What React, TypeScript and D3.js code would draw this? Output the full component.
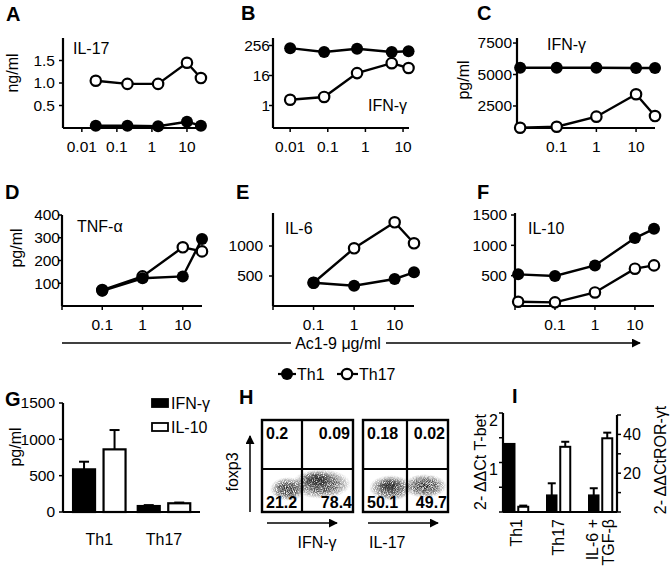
import React from 'react';
import * as d3 from 'd3';

const FONT = '"Liberation Sans", Arial, Helvetica, sans-serif';
const FS = 15.5;
const TS = 16;

// ---------------- data ----------------
// A: IL-17 (ng/ml)
const dosesA = [0.025, 0.2, 1.5, 10, 25];
const il17Th1 = [0.05, 0.05, 0.04, 0.14, 0.05];
const il17Th17 = [1.05, 0.98, 0.98, 1.45, 1.11];
// B: IFN-γ (log2)
const dosesB = [0.01, 0.08, 0.6, 5, 14];
const ifnLogTh1 = [200, 140, 190, 140, 150];
const ifnLogTh17 = [1.7, 2.2, 20, 50, 32];
// C: IFN-γ pg/ml
const dosesCF = [0.012, 0.1, 1, 10, 30];
const ifnTh1 = [5540, 5540, 5540, 5520, 5520];
const ifnTh17 = [770, 850, 1650, 3430, 1700];
// D, E
const dosesDE = [0.1, 1, 10, 30];
const tnfTh1 = [67, 122, 130, 295];
const tnfTh17 = [70, 130, 258, 240];
const il6Th1 = [388, 338, 450, 562];
const il6Th17 = [388, 962, 1395, 1045];
// F
const il10Th1 = [522, 494, 669, 1120, 1272];
const il10Th17 = [70, 60, 223, 615, 669];

const doseTicks = [0.01, 0.1, 1, 10];
const doseLabelsFull = ['0.01', '0.1', '1', '10'];
const doseLabelsShort = ['', '0.1', '1', '10'];

// G
const gGroups = ['Th1', 'Th17'];
const gSeries = ['IFN-γ', 'IL-10'];
const gIfn = [587, 82];
const gIfnErr = [105, 13];
const gIl10 = [862, 120];
const gIl10Err = [266, 10];
const gTicks = [0, 500, 1000, 1500];

// H
const hIfnQuad = ['0.2', '0.09', '21.2', '78.4'];
const hIl17Quad = ['0.18', '0.02', '50.1', '49.7'];

// I
const iGroups = ['Th1', 'Th17', 'IL6TGF'];
const iGroupLines = [['Th1'], ['Th17'], ['IL-6 +', 'TGF-β']];
const iTbet = [1.38, 0.34, 0.34];
const iTbetErr = [0, 0.24, 0.14];
const iRor = [2.7, 33.6, 38];
const iRorErr = [0.6, 2.6, 2.9];
const iLeftTicks = [0, 0.5, 1, 1.5, 2];
const iRightTicks = [0, 10, 20, 30, 40, 50];

// ---------------- components ----------------
type LP = {
  letter: string; lx: number; ly: number;
  title: string; tx: number; ty: number;
  x: any; y: any; x0: number; x1: number; yTop: number; yBot: number;
  xTicks: number[]; xLabels: string[];
  yTicks: number[]; yLabels: string[]; yPad: number;
  doses: number[]; th1: number[]; th17: number[];
  ylab?: string; ylx?: number; yly?: number;
};

function LinePanel(p: LP) {
  const line = d3.line<number>().x((_, i) => p.x(p.doses[i])).y((d) => p.y(d));
  return (
    <g>
      <text x={p.lx} y={p.ly} fontSize={20} fontWeight="bold">{p.letter}</text>
      <text x={p.tx} y={p.ty} fontSize={TS}>{p.title}</text>
      {p.ylab && (
        <text transform={`translate(${p.ylx},${p.yly}) rotate(-90)`} textAnchor="middle" dy="0.35em" fontSize={TS}>{p.ylab}</text>
      )}
      <line x1={p.x0} x2={p.x0} y1={p.yTop} y2={p.yBot} stroke="#000" strokeWidth={2.2} />
      <line x1={p.x0} x2={p.x1} y1={p.yBot} y2={p.yBot} stroke="#000" strokeWidth={2.2} />
      {p.yTicks.map((t, i) => (
        <g key={'y' + i}>
          <line x1={p.x0 - 4} x2={p.x0} y1={p.y(t)} y2={p.y(t)} stroke="#000" strokeWidth={1.5} />
          <text x={p.x0 - p.yPad} y={p.y(t)} dy="0.35em" textAnchor="end" fontSize={FS}>{p.yLabels[i]}</text>
        </g>
      ))}
      {p.xTicks.map((t, i) => (
        <g key={'x' + i}>
          <line x1={p.x(t)} x2={p.x(t)} y1={p.yBot} y2={p.yBot + 4} stroke="#000" strokeWidth={1.5} />
          <text x={p.x(t)} y={p.yBot + 24} textAnchor="middle" fontSize={FS}>{p.xLabels[i]}</text>
        </g>
      ))}
      <path d={line(p.th17) || ''} fill="none" stroke="#000" strokeWidth={2.4} />
      {p.th17.map((v, i) => (
        <circle key={'o' + i} cx={p.x(p.doses[i])} cy={p.y(v)} r={5.2} fill="#fff" stroke="#000" strokeWidth={2.2} />
      ))}
      <path d={line(p.th1) || ''} fill="none" stroke="#000" strokeWidth={2.4} />
      {p.th1.map((v, i) => (
        <circle key={'f' + i} cx={p.x(p.doses[i])} cy={p.y(v)} r={6} fill="#000" />
      ))}
    </g>
  );
}

function PanelG() {
  const x0 = 63, x1 = 200, yTop = 403, yBot = 512;
  const y = d3.scaleLinear().domain([0, 1500]).range([yBot, yTop]);
  const gx = d3.scalePoint<string>().domain(gGroups).range([99.3, 164]);
  const inner = d3.scaleBand<string>().domain(gSeries).range([-26.25, 26.25]).paddingInner(0.279);
  const vals = [gIfn, gIl10];
  const errs = [gIfnErr, gIl10Err];
  const fills = ['#000', '#fff'];
  return (
    <g>
      <text x={5} y={406} fontSize={20} fontWeight="bold">G</text>
      <text transform="translate(15,447) rotate(-90)" textAnchor="middle" dy="0.35em" fontSize={TS}>pg/ml</text>
      <line x1={x0} x2={x0} y1={yTop} y2={yBot} stroke="#000" strokeWidth={2.2} />
      <line x1={x0} x2={x1} y1={yBot} y2={yBot} stroke="#000" strokeWidth={2.2} />
      {gTicks.map((t) => (
        <g key={t}>
          <line x1={x0 - 4} x2={x0} y1={y(t)} y2={y(t)} stroke="#000" strokeWidth={1.5} />
          <text x={x0 - 8} y={y(t)} dy="0.35em" textAnchor="end" fontSize={FS}>{t}</text>
        </g>
      ))}
      {gGroups.map((g, gi) => (
        <g key={g}>
          {gSeries.map((s, si) => {
            const bx = (gx(g) as number) + (inner(s) as number);
            const bw = inner.bandwidth();
            const v = vals[si][gi];
            const e = errs[si][gi];
            const cx = bx + bw / 2;
            return (
              <g key={s}>
                <line x1={cx} x2={cx} y1={y(v)} y2={y(v + e)} stroke="#000" strokeWidth={2} />
                <line x1={cx - 5} x2={cx + 5} y1={y(v + e)} y2={y(v + e)} stroke="#000" strokeWidth={2} />
                <rect x={bx} y={y(v)} width={bw} height={yBot - y(v)} fill={fills[si]} stroke="#000" strokeWidth={2.2} />
              </g>
            );
          })}
          <text x={gx(g)} y={545} textAnchor="middle" fontSize={TS}>{g}</text>
        </g>
      ))}
      {gSeries.map((s, si) => (
        <g key={s}>
          <rect x={152} y={399 + si * 24} width={16} height={8} fill={fills[si]} stroke="#000" strokeWidth={1.8} />
          <text x={171} y={409 + si * 24} fontSize={TS}>{s}</text>
        </g>
      ))}
    </g>
  );
}

function FlowBox({ x, w, vx, quad, xlab, xlabX, xlabAnchor, lobes }: any) {
  const yT = 420, yB = 512, hy = 469;
  return (
    <g>
      {lobes.map((l: number[], i: number) => (
        <ellipse key={i} cx={l[0]} cy={l[1]} rx={l[2]} ry={l[3]} fill="url(#cloud)" filter="url(#grain)" />
      ))}
      <rect x={x} y={yT} width={w} height={yB - yT} fill="none" stroke="#000" strokeWidth={2.4} />
      <line x1={vx} x2={vx} y1={yT} y2={yB} stroke="#000" strokeWidth={2.2} />
      <line x1={x} x2={x + w} y1={hy} y2={hy} stroke="#000" strokeWidth={2.2} />
      <text x={x + 4} y={439} fontSize={TS} fontWeight="bold">{quad[0]}</text>
      <text x={x + w - 3} y={439} fontSize={TS} fontWeight="bold" textAnchor="end">{quad[1]}</text>
      <text x={x + 4} y={508} fontSize={TS} fontWeight="bold">{quad[2]}</text>
      <text x={x + w - 1} y={508} fontSize={TS} fontWeight="bold" textAnchor="end">{quad[3]}</text>
      <line x1={x + 5} x2={x + 75} y1={523} y2={523} stroke="#000" strokeWidth={1.5} markerEnd="url(#arr)" />
      <text x={xlabX} y={548} fontSize={TS} textAnchor={xlabAnchor}>{xlab}</text>
    </g>
  );
}

function PanelH() {
  return (
    <g>
      <text x={239} y={404} fontSize={20} fontWeight="bold">H</text>
      <line x1={250} x2={250} y1={512} y2={436} stroke="#000" strokeWidth={1.5} markerEnd="url(#arr)" />
      <text transform="translate(232,472) rotate(-90)" textAnchor="middle" dy="0.35em" fontSize={TS}>foxp3</text>
      <FlowBox x={262} w={91} vx={302} quad={hIfnQuad} xlab="IFN-γ" xlabX={317} xlabAnchor="middle"
        lobes={[[288, 489, 18, 12], [321, 484, 30, 15], [317, 480, 18, 9]]} />
      <FlowBox x={363} w={85} vx={407} quad={hIl17Quad} xlab="IL-17" xlabX={369} xlabAnchor="start"
        lobes={[[391, 488, 22, 13], [425, 486, 22, 12], [390, 486, 13, 8]]} />
    </g>
  );
}

function PanelI() {
  const x0 = 503, x1 = 617, yTop = 413, yBot = 512;
  const yL = d3.scaleLinear().domain([0, 2]).range([yBot, yTop]);
  const yR = d3.scaleLinear().domain([0, 50]).range([yBot, 415]);
  const gx = d3.scalePoint<string>().domain(iGroups).range([516.5, 600.5]);
  const inner = d3.scaleBand<string>().domain(['tbet', 'ror']).range([-11.75, 11.75]).paddingInner(0.26);
  const bw = inner.bandwidth();
  return (
    <g>
      <text x={512} y={403} fontSize={20} fontWeight="bold">I</text>
      <text transform="translate(480,462) rotate(-90)" textAnchor="middle" dy="0.35em" fontSize={16}>2- ΔΔCt T-bet</text>
      <text transform="translate(660,460) rotate(-90)" textAnchor="middle" dy="0.35em" fontSize={16}>2- ΔΔCtROR-γt</text>
      <line x1={x0} x2={x0} y1={yTop} y2={yBot} stroke="#000" strokeWidth={2.2} />
      <line x1={x1} x2={x1} y1={415} y2={yBot} stroke="#000" strokeWidth={2.2} />
      <line x1={x0} x2={x1} y1={yBot} y2={yBot} stroke="#000" strokeWidth={2.2} />
      {iLeftTicks.map((t) => (
        <line key={t} x1={x0 - 4} x2={x0} y1={yL(t)} y2={yL(t)} stroke="#000" strokeWidth={1.5} />
      ))}
      {[1, 2].map((t) => (
        <text key={t} x={x0 - 5} y={yL(t) + 7} dy="0.35em" textAnchor="end" fontSize={16}>{t}</text>
      ))}
      {iRightTicks.map((t) => (
        <line key={t} x1={x1} x2={x1 + 4} y1={yR(t)} y2={yR(t)} stroke="#000" strokeWidth={1.5} />
      ))}
      {[20, 40].map((t) => (
        <text key={t} x={x1 + 6} y={yR(t)} dy="0.35em" textAnchor="start" fontSize={16}>{t}</text>
      ))}
      {iGroups.map((g, gi) => {
        const c = gx(g) as number;
        const bx1 = c + (inner('tbet') as number);
        const bx2 = c + (inner('ror') as number);
        const v1 = iTbet[gi], e1 = iTbetErr[gi], v2 = iRor[gi], e2 = iRorErr[gi];
        const lines = iGroupLines[gi];
        return (
          <g key={g}>
            {e1 > 0 && (
              <g>
                <line x1={bx1 + bw / 2} x2={bx1 + bw / 2} y1={yL(v1)} y2={yL(v1 + e1)} stroke="#000" strokeWidth={2} />
                <line x1={bx1 + bw / 2 - 4} x2={bx1 + bw / 2 + 4} y1={yL(v1 + e1)} y2={yL(v1 + e1)} stroke="#000" strokeWidth={2} />
              </g>
            )}
            <rect x={bx1} y={yL(v1)} width={bw} height={yBot - yL(v1)} fill="#000" stroke="#000" strokeWidth={1.5} />
            <line x1={bx2 + bw / 2} x2={bx2 + bw / 2} y1={yR(v2)} y2={yR(v2 + e2)} stroke="#000" strokeWidth={2} />
            <line x1={bx2 + bw / 2 - 4} x2={bx2 + bw / 2 + 4} y1={yR(v2 + e2)} y2={yR(v2 + e2)} stroke="#000" strokeWidth={2} />
            <rect x={bx2} y={yR(v2)} width={bw} height={yBot - yR(v2)} fill="#fff" stroke="#000" strokeWidth={2} />
            {lines.map((t, li) => (
              <text key={li} transform={`translate(${c + (li - (lines.length - 1) / 2) * 16},519) rotate(-90)`}
                textAnchor="end" dy="0.35em" fontSize={16}>{t}</text>
            ))}
          </g>
        );
      })}
    </g>
  );
}

export default function App() {
  const xA = d3.scaleLog().domain([0.0029, 32.7]).range([63, 205]);
  const yA = d3.scaleLinear().domain([0, 2]).range([128, 38]);
  const xB = d3.scaleLog().domain([0.0035, 14.4]).range([273, 409]);
  const yB = d3.scaleLog().base(2).domain([0.125, 512]).range([128, 38]);
  const xC = d3.scaleLog().domain([0.01, 30]).range([517, 655]);
  const yC = d3.scaleLinear().domain([750, 7900]).range([128, 38]);
  const xD = d3.scaleLog().domain([0.01, 30]).range([62, 202]);
  const yD = d3.scaleLinear().domain([0, 400]).range([306, 215]);
  const xE = d3.scaleLog().domain([0.01, 30]).range([273, 414]);
  const yE = d3.scaleLinear().domain([0, 1550]).range([306, 213]);
  const xF = d3.scaleLog().domain([0.01, 30]).range([515, 654]);
  const yF = d3.scaleLinear().domain([0, 1500]).range([306, 215]);

  return (
    <svg width={672} height={571} style={{ position: 'absolute', left: 0, top: 0, background: '#fff' }}
      fontFamily={FONT} fill="#000">
      <defs>
        <marker id="arr" viewBox="0 0 10 10" refX={9} refY={5} markerWidth={6} markerHeight={6} orient="auto">
          <path d="M0,0 L10,5 L0,10 z" fill="#000" />
        </marker>
        <radialGradient id="cloud">
          <stop offset="0%" stopColor="#222" stopOpacity={1} />
          <stop offset="50%" stopColor="#3a3a3a" stopOpacity={0.85} />
          <stop offset="80%" stopColor="#666" stopOpacity={0.45} />
          <stop offset="100%" stopColor="#999" stopOpacity={0} />
        </radialGradient>
        <filter id="grain" x="-10%" y="-10%" width="120%" height="120%">
          <feTurbulence type="fractalNoise" baseFrequency="1.1" numOctaves={2} seed={3} result="n" />
          <feColorMatrix in="n" type="matrix" values="0 0 0 0 0  0 0 0 0 0  0 0 0 0 0  2.5 0 0 0 -0.55" result="a" />
          <feComposite in="SourceGraphic" in2="a" operator="in" />
        </filter>
      </defs>
      <rect x={0} y={0} width={672} height={571} fill="#fff" />

      <LinePanel letter="A" lx={6} ly={21} title="IL-17" tx={73} ty={54} x={xA} y={yA} x0={63} x1={205} yTop={38} yBot={128}
        xTicks={doseTicks} xLabels={doseLabelsFull} yTicks={[0.5, 1.0, 1.5]} yLabels={['0.5', '1.0', '1.5']} yPad={8}
        doses={dosesA} th1={il17Th1} th17={il17Th17} ylab="ng/ml" ylx={12} yly={73} />
      <LinePanel letter="B" lx={241} ly={20} title="IFN-γ" tx={368} ty={111} x={xB} y={yB} x0={273} x1={409} yTop={38} yBot={128}
        xTicks={doseTicks} xLabels={doseLabelsFull} yTicks={[1, 16, 256]} yLabels={['1', '16', '256']} yPad={3}
        doses={dosesB} th1={ifnLogTh1} th17={ifnLogTh17} />
      <LinePanel letter="C" lx={477} ly={20} title="IFN-γ" tx={547} ty={50} x={xC} y={yC} x0={517} x1={655} yTop={38} yBot={128}
        xTicks={doseTicks} xLabels={doseLabelsShort} yTicks={[2500, 5000, 7500]} yLabels={['2500', '5000', '7500']} yPad={5}
        doses={dosesCF} th1={ifnTh1} th17={ifnTh17} ylab="pg/ml" ylx={463} yly={80} />
      <LinePanel letter="D" lx={5} ly={199} title="TNF-α" tx={77} ty={232} x={xD} y={yD} x0={62} x1={202} yTop={215} yBot={306}
        xTicks={doseTicks} xLabels={doseLabelsShort} yTicks={[100, 200, 300, 400]} yLabels={['100', '200', '300', '400']} yPad={2}
        doses={dosesDE} th1={tnfTh1} th17={tnfTh17} ylab="pg/ml" ylx={16} yly={248} />
      <LinePanel letter="E" lx={236} ly={199} title="IL-6" tx={285} ty={234} x={xE} y={yE} x0={273} x1={414} yTop={213} yBot={306}
        xTicks={doseTicks} xLabels={doseLabelsShort} yTicks={[500, 1000]} yLabels={['500', '1000']} yPad={10}
        doses={dosesDE} th1={il6Th1} th17={il6Th17} />
      <LinePanel letter="F" lx={477} ly={199} title="IL-10" tx={528} ty={234} x={xF} y={yF} x0={515} x1={654} yTop={213} yBot={306}
        xTicks={doseTicks} xLabels={doseLabelsShort} yTicks={[500, 1000, 1500]} yLabels={['500', '1000', '1500']} yPad={8}
        doses={dosesCF} th1={il10Th1} th17={il10Th17} />

      {/* Ac1-9 arrow */}
      <line x1={62} x2={640} y1={343} y2={343} stroke="#000" strokeWidth={1.5} markerEnd="url(#arr)" />
      <rect x={291} y={334} width={95} height={18} fill="#fff" />
      <text x={338} y={349} textAnchor="middle" fontSize={TS}>Ac1-9 μg/ml</text>

      {/* legend */}
      <line x1={278} x2={296} y1={374} y2={374} stroke="#000" strokeWidth={2.2} />
      <circle cx={287} cy={374} r={6} fill="#000" />
      <text x={297} y={380} fontSize={TS}>Th1</text>
      <line x1={337} x2={358} y1={374} y2={374} stroke="#000" strokeWidth={2.2} />
      <circle cx={347} cy={374} r={5.2} fill="#fff" stroke="#000" strokeWidth={2.2} />
      <text x={359} y={380} fontSize={TS}>Th17</text>

      <PanelG />
      <PanelH />
      <PanelI />
    </svg>
  );
}
